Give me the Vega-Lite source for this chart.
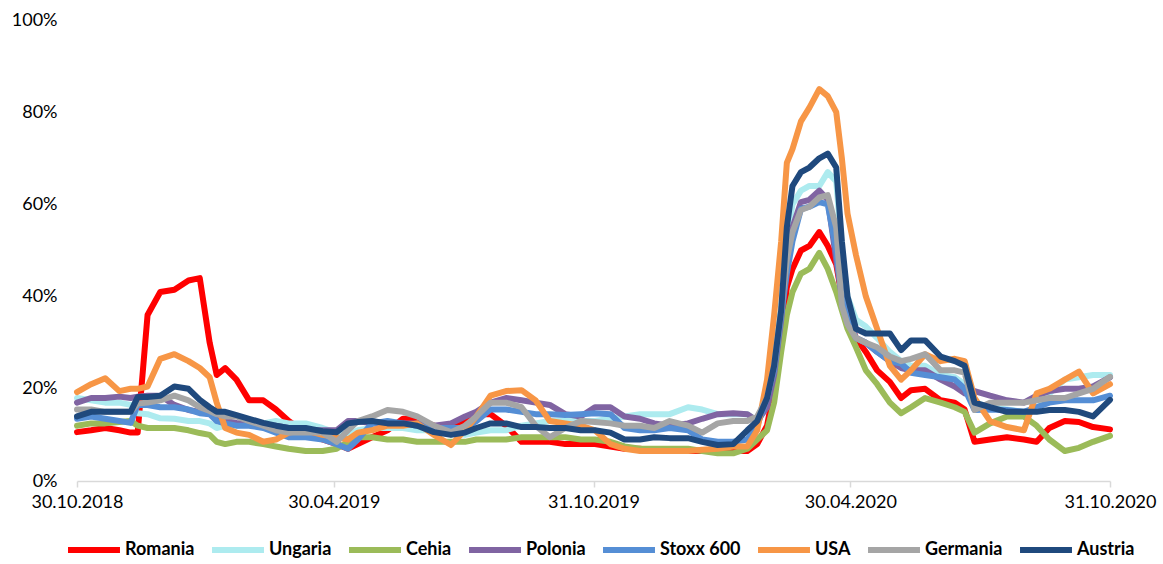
{
 "$schema": "https://vega.github.io/schema/vega-lite/v6.json",
 "width": 1033, "height": 461,
 "autosize": {"type": "none"},
 "padding": {"left": 77, "top": 20, "right": 53, "bottom": 83},
 "background": "white",
 "config": {"view": {"stroke": null}, "font": "Lato"},
 "data": {"format": {"parse": {"d": "date:'%Y-%m-%d'"}}, "values": [
{"d":"2018-10-30","s":"Romania","v":10.6},{"d":"2018-11-09","s":"Romania","v":11},{"d":"2018-11-19","s":"Romania","v":11.5},{"d":"2018-11-29","s":"Romania","v":11},{"d":"2018-12-07","s":"Romania","v":10.5},{"d":"2018-12-12","s":"Romania","v":10.5},{"d":"2018-12-19","s":"Romania","v":36},{"d":"2018-12-28","s":"Romania","v":41},{"d":"2019-01-07","s":"Romania","v":41.5},{"d":"2019-01-17","s":"Romania","v":43.5},{"d":"2019-01-25","s":"Romania","v":44},{"d":"2019-02-01","s":"Romania","v":30},{"d":"2019-02-06","s":"Romania","v":23},{"d":"2019-02-12","s":"Romania","v":24.5},{"d":"2019-02-20","s":"Romania","v":22},{"d":"2019-03-01","s":"Romania","v":17.5},{"d":"2019-03-11","s":"Romania","v":17.5},{"d":"2019-03-20","s":"Romania","v":15.5},{"d":"2019-03-29","s":"Romania","v":13},{"d":"2019-04-10","s":"Romania","v":10.5},{"d":"2019-04-22","s":"Romania","v":9},{"d":"2019-05-02","s":"Romania","v":8},{"d":"2019-05-10","s":"Romania","v":7},{"d":"2019-05-17","s":"Romania","v":8},{"d":"2019-05-27","s":"Romania","v":9.5},{"d":"2019-06-07","s":"Romania","v":11},{"d":"2019-06-18","s":"Romania","v":13.5},{"d":"2019-06-28","s":"Romania","v":13.5},{"d":"2019-07-10","s":"Romania","v":12},{"d":"2019-07-22","s":"Romania","v":11},{"d":"2019-08-01","s":"Romania","v":13.5},{"d":"2019-08-09","s":"Romania","v":14.5},{"d":"2019-08-19","s":"Romania","v":14.5},{"d":"2019-08-30","s":"Romania","v":12},{"d":"2019-09-10","s":"Romania","v":8.5},{"d":"2019-09-20","s":"Romania","v":8.5},{"d":"2019-09-30","s":"Romania","v":8.5},{"d":"2019-10-11","s":"Romania","v":8},{"d":"2019-10-22","s":"Romania","v":8},{"d":"2019-11-01","s":"Romania","v":8},{"d":"2019-11-12","s":"Romania","v":7.5},{"d":"2019-11-22","s":"Romania","v":7},{"d":"2019-12-03","s":"Romania","v":7},{"d":"2019-12-13","s":"Romania","v":6.5},{"d":"2019-12-24","s":"Romania","v":6.5},{"d":"2020-01-06","s":"Romania","v":6.5},{"d":"2020-01-16","s":"Romania","v":6.5},{"d":"2020-01-27","s":"Romania","v":6.5},{"d":"2020-02-07","s":"Romania","v":6.5},{"d":"2020-02-17","s":"Romania","v":6.5},{"d":"2020-02-24","s":"Romania","v":8},{"d":"2020-03-02","s":"Romania","v":12},{"d":"2020-03-07","s":"Romania","v":20},{"d":"2020-03-12","s":"Romania","v":30},{"d":"2020-03-16","s":"Romania","v":42},{"d":"2020-03-20","s":"Romania","v":46},{"d":"2020-03-26","s":"Romania","v":50},{"d":"2020-04-01","s":"Romania","v":51},{"d":"2020-04-08","s":"Romania","v":54},{"d":"2020-04-14","s":"Romania","v":51},{"d":"2020-04-20","s":"Romania","v":47},{"d":"2020-04-24","s":"Romania","v":40},{"d":"2020-04-28","s":"Romania","v":36},{"d":"2020-05-04","s":"Romania","v":31},{"d":"2020-05-11","s":"Romania","v":28},{"d":"2020-05-19","s":"Romania","v":24},{"d":"2020-05-28","s":"Romania","v":21.5},{"d":"2020-06-05","s":"Romania","v":18},{"d":"2020-06-12","s":"Romania","v":19.7},{"d":"2020-06-22","s":"Romania","v":20},{"d":"2020-07-03","s":"Romania","v":17.5},{"d":"2020-07-13","s":"Romania","v":17},{"d":"2020-07-20","s":"Romania","v":15.5},{"d":"2020-07-27","s":"Romania","v":8.5},{"d":"2020-08-07","s":"Romania","v":9},{"d":"2020-08-19","s":"Romania","v":9.5},{"d":"2020-08-31","s":"Romania","v":9},{"d":"2020-09-09","s":"Romania","v":8.5},{"d":"2020-09-18","s":"Romania","v":11.5},{"d":"2020-09-29","s":"Romania","v":13},{"d":"2020-10-09","s":"Romania","v":12.8},{"d":"2020-10-19","s":"Romania","v":11.7},{"d":"2020-10-31","s":"Romania","v":11.2},
{"d":"2018-10-30","s":"Ungaria","v":18},{"d":"2018-11-09","s":"Ungaria","v":17.5},{"d":"2018-11-19","s":"Ungaria","v":17},{"d":"2018-11-29","s":"Ungaria","v":17},{"d":"2018-12-07","s":"Ungaria","v":16.5},{"d":"2018-12-12","s":"Ungaria","v":14.7},{"d":"2018-12-19","s":"Ungaria","v":14.5},{"d":"2018-12-28","s":"Ungaria","v":13.6},{"d":"2019-01-07","s":"Ungaria","v":13.5},{"d":"2019-01-17","s":"Ungaria","v":13},{"d":"2019-01-25","s":"Ungaria","v":13},{"d":"2019-02-01","s":"Ungaria","v":12.5},{"d":"2019-02-06","s":"Ungaria","v":11.5},{"d":"2019-02-12","s":"Ungaria","v":12},{"d":"2019-02-20","s":"Ungaria","v":12},{"d":"2019-03-01","s":"Ungaria","v":12.5},{"d":"2019-03-11","s":"Ungaria","v":12.5},{"d":"2019-03-20","s":"Ungaria","v":13},{"d":"2019-03-29","s":"Ungaria","v":12.5},{"d":"2019-04-10","s":"Ungaria","v":12.5},{"d":"2019-04-22","s":"Ungaria","v":11.5},{"d":"2019-05-02","s":"Ungaria","v":10.5},{"d":"2019-05-10","s":"Ungaria","v":10},{"d":"2019-05-17","s":"Ungaria","v":11},{"d":"2019-05-27","s":"Ungaria","v":11.5},{"d":"2019-06-07","s":"Ungaria","v":11.5},{"d":"2019-06-18","s":"Ungaria","v":11.5},{"d":"2019-06-28","s":"Ungaria","v":11},{"d":"2019-07-10","s":"Ungaria","v":11},{"d":"2019-07-22","s":"Ungaria","v":10.5},{"d":"2019-08-01","s":"Ungaria","v":10},{"d":"2019-08-09","s":"Ungaria","v":10.5},{"d":"2019-08-19","s":"Ungaria","v":11},{"d":"2019-08-30","s":"Ungaria","v":11},{"d":"2019-09-10","s":"Ungaria","v":12},{"d":"2019-09-20","s":"Ungaria","v":12.5},{"d":"2019-09-30","s":"Ungaria","v":13},{"d":"2019-10-11","s":"Ungaria","v":13},{"d":"2019-10-22","s":"Ungaria","v":13},{"d":"2019-11-01","s":"Ungaria","v":13},{"d":"2019-11-12","s":"Ungaria","v":13.5},{"d":"2019-11-22","s":"Ungaria","v":14},{"d":"2019-12-03","s":"Ungaria","v":14.5},{"d":"2019-12-13","s":"Ungaria","v":14.5},{"d":"2019-12-24","s":"Ungaria","v":14.5},{"d":"2020-01-06","s":"Ungaria","v":16},{"d":"2020-01-16","s":"Ungaria","v":15.5},{"d":"2020-01-27","s":"Ungaria","v":14.5},{"d":"2020-02-07","s":"Ungaria","v":14.5},{"d":"2020-02-17","s":"Ungaria","v":14.5},{"d":"2020-02-24","s":"Ungaria","v":13},{"d":"2020-03-02","s":"Ungaria","v":18},{"d":"2020-03-07","s":"Ungaria","v":26},{"d":"2020-03-12","s":"Ungaria","v":38},{"d":"2020-03-16","s":"Ungaria","v":52},{"d":"2020-03-20","s":"Ungaria","v":60},{"d":"2020-03-26","s":"Ungaria","v":63},{"d":"2020-04-01","s":"Ungaria","v":64},{"d":"2020-04-08","s":"Ungaria","v":64},{"d":"2020-04-14","s":"Ungaria","v":67},{"d":"2020-04-20","s":"Ungaria","v":65},{"d":"2020-04-24","s":"Ungaria","v":50},{"d":"2020-04-28","s":"Ungaria","v":40},{"d":"2020-05-04","s":"Ungaria","v":35},{"d":"2020-05-11","s":"Ungaria","v":33.5},{"d":"2020-05-19","s":"Ungaria","v":31},{"d":"2020-05-28","s":"Ungaria","v":28},{"d":"2020-06-05","s":"Ungaria","v":26},{"d":"2020-06-12","s":"Ungaria","v":25},{"d":"2020-06-22","s":"Ungaria","v":25},{"d":"2020-07-03","s":"Ungaria","v":23},{"d":"2020-07-13","s":"Ungaria","v":22.5},{"d":"2020-07-20","s":"Ungaria","v":21},{"d":"2020-07-27","s":"Ungaria","v":17},{"d":"2020-08-07","s":"Ungaria","v":16},{"d":"2020-08-19","s":"Ungaria","v":15.5},{"d":"2020-08-31","s":"Ungaria","v":15},{"d":"2020-09-09","s":"Ungaria","v":15.5},{"d":"2020-09-18","s":"Ungaria","v":19},{"d":"2020-09-29","s":"Ungaria","v":22},{"d":"2020-10-09","s":"Ungaria","v":22.5},{"d":"2020-10-19","s":"Ungaria","v":23},{"d":"2020-10-31","s":"Ungaria","v":23},
{"d":"2018-10-30","s":"Cehia","v":12},{"d":"2018-11-09","s":"Cehia","v":12.5},{"d":"2018-11-19","s":"Cehia","v":12.5},{"d":"2018-11-29","s":"Cehia","v":12.8},{"d":"2018-12-07","s":"Cehia","v":13},{"d":"2018-12-12","s":"Cehia","v":12},{"d":"2018-12-19","s":"Cehia","v":11.5},{"d":"2018-12-28","s":"Cehia","v":11.5},{"d":"2019-01-07","s":"Cehia","v":11.5},{"d":"2019-01-17","s":"Cehia","v":11},{"d":"2019-01-25","s":"Cehia","v":10.4},{"d":"2019-02-01","s":"Cehia","v":10},{"d":"2019-02-06","s":"Cehia","v":8.5},{"d":"2019-02-12","s":"Cehia","v":8},{"d":"2019-02-20","s":"Cehia","v":8.5},{"d":"2019-03-01","s":"Cehia","v":8.5},{"d":"2019-03-11","s":"Cehia","v":8},{"d":"2019-03-20","s":"Cehia","v":7.5},{"d":"2019-03-29","s":"Cehia","v":7},{"d":"2019-04-10","s":"Cehia","v":6.5},{"d":"2019-04-22","s":"Cehia","v":6.5},{"d":"2019-05-02","s":"Cehia","v":7},{"d":"2019-05-10","s":"Cehia","v":8.5},{"d":"2019-05-17","s":"Cehia","v":9.5},{"d":"2019-05-27","s":"Cehia","v":9.5},{"d":"2019-06-07","s":"Cehia","v":9},{"d":"2019-06-18","s":"Cehia","v":9},{"d":"2019-06-28","s":"Cehia","v":8.5},{"d":"2019-07-10","s":"Cehia","v":8.5},{"d":"2019-07-22","s":"Cehia","v":8.5},{"d":"2019-08-01","s":"Cehia","v":8.5},{"d":"2019-08-09","s":"Cehia","v":9},{"d":"2019-08-19","s":"Cehia","v":9},{"d":"2019-08-30","s":"Cehia","v":9},{"d":"2019-09-10","s":"Cehia","v":9.5},{"d":"2019-09-20","s":"Cehia","v":9.5},{"d":"2019-09-30","s":"Cehia","v":9.5},{"d":"2019-10-11","s":"Cehia","v":9.5},{"d":"2019-10-22","s":"Cehia","v":9},{"d":"2019-11-01","s":"Cehia","v":9},{"d":"2019-11-12","s":"Cehia","v":8.5},{"d":"2019-11-22","s":"Cehia","v":7.5},{"d":"2019-12-03","s":"Cehia","v":7},{"d":"2019-12-13","s":"Cehia","v":7},{"d":"2019-12-24","s":"Cehia","v":7},{"d":"2020-01-06","s":"Cehia","v":7},{"d":"2020-01-16","s":"Cehia","v":6.5},{"d":"2020-01-27","s":"Cehia","v":6},{"d":"2020-02-07","s":"Cehia","v":6},{"d":"2020-02-17","s":"Cehia","v":7},{"d":"2020-02-24","s":"Cehia","v":9},{"d":"2020-03-02","s":"Cehia","v":11},{"d":"2020-03-07","s":"Cehia","v":17},{"d":"2020-03-12","s":"Cehia","v":28},{"d":"2020-03-16","s":"Cehia","v":36},{"d":"2020-03-20","s":"Cehia","v":41},{"d":"2020-03-26","s":"Cehia","v":45},{"d":"2020-04-01","s":"Cehia","v":46},{"d":"2020-04-08","s":"Cehia","v":49.5},{"d":"2020-04-14","s":"Cehia","v":46},{"d":"2020-04-20","s":"Cehia","v":41},{"d":"2020-04-24","s":"Cehia","v":37},{"d":"2020-04-28","s":"Cehia","v":33},{"d":"2020-05-04","s":"Cehia","v":29},{"d":"2020-05-11","s":"Cehia","v":24},{"d":"2020-05-19","s":"Cehia","v":21},{"d":"2020-05-28","s":"Cehia","v":17},{"d":"2020-06-05","s":"Cehia","v":14.7},{"d":"2020-06-12","s":"Cehia","v":16},{"d":"2020-06-22","s":"Cehia","v":18},{"d":"2020-07-03","s":"Cehia","v":17},{"d":"2020-07-13","s":"Cehia","v":16},{"d":"2020-07-20","s":"Cehia","v":15},{"d":"2020-07-27","s":"Cehia","v":10.5},{"d":"2020-08-07","s":"Cehia","v":12.5},{"d":"2020-08-19","s":"Cehia","v":14},{"d":"2020-08-31","s":"Cehia","v":14},{"d":"2020-09-09","s":"Cehia","v":12},{"d":"2020-09-18","s":"Cehia","v":9},{"d":"2020-09-29","s":"Cehia","v":6.5},{"d":"2020-10-09","s":"Cehia","v":7.2},{"d":"2020-10-19","s":"Cehia","v":8.5},{"d":"2020-10-31","s":"Cehia","v":9.8},
{"d":"2018-10-30","s":"Polonia","v":17},{"d":"2018-11-09","s":"Polonia","v":18},{"d":"2018-11-19","s":"Polonia","v":18},{"d":"2018-11-29","s":"Polonia","v":18.3},{"d":"2018-12-07","s":"Polonia","v":18},{"d":"2018-12-12","s":"Polonia","v":18.3},{"d":"2018-12-19","s":"Polonia","v":18.5},{"d":"2018-12-28","s":"Polonia","v":18.5},{"d":"2019-01-07","s":"Polonia","v":16.5},{"d":"2019-01-17","s":"Polonia","v":15.4},{"d":"2019-01-25","s":"Polonia","v":15},{"d":"2019-02-01","s":"Polonia","v":14.5},{"d":"2019-02-06","s":"Polonia","v":14},{"d":"2019-02-12","s":"Polonia","v":13},{"d":"2019-02-20","s":"Polonia","v":12.6},{"d":"2019-03-01","s":"Polonia","v":12.3},{"d":"2019-03-11","s":"Polonia","v":12},{"d":"2019-03-20","s":"Polonia","v":12},{"d":"2019-03-29","s":"Polonia","v":11.5},{"d":"2019-04-10","s":"Polonia","v":11},{"d":"2019-04-22","s":"Polonia","v":11},{"d":"2019-05-02","s":"Polonia","v":11},{"d":"2019-05-10","s":"Polonia","v":13},{"d":"2019-05-17","s":"Polonia","v":13},{"d":"2019-05-27","s":"Polonia","v":12.5},{"d":"2019-06-07","s":"Polonia","v":12.5},{"d":"2019-06-18","s":"Polonia","v":12.5},{"d":"2019-06-28","s":"Polonia","v":12.5},{"d":"2019-07-10","s":"Polonia","v":12},{"d":"2019-07-22","s":"Polonia","v":12.5},{"d":"2019-08-01","s":"Polonia","v":14},{"d":"2019-08-09","s":"Polonia","v":15},{"d":"2019-08-19","s":"Polonia","v":17},{"d":"2019-08-30","s":"Polonia","v":18},{"d":"2019-09-10","s":"Polonia","v":17.5},{"d":"2019-09-20","s":"Polonia","v":17},{"d":"2019-09-30","s":"Polonia","v":16.5},{"d":"2019-10-11","s":"Polonia","v":14.5},{"d":"2019-10-22","s":"Polonia","v":14},{"d":"2019-11-01","s":"Polonia","v":16},{"d":"2019-11-12","s":"Polonia","v":16},{"d":"2019-11-22","s":"Polonia","v":14},{"d":"2019-12-03","s":"Polonia","v":13.5},{"d":"2019-12-13","s":"Polonia","v":12.5},{"d":"2019-12-24","s":"Polonia","v":12},{"d":"2020-01-06","s":"Polonia","v":12.5},{"d":"2020-01-16","s":"Polonia","v":13.5},{"d":"2020-01-27","s":"Polonia","v":14.5},{"d":"2020-02-07","s":"Polonia","v":14.7},{"d":"2020-02-17","s":"Polonia","v":14.5},{"d":"2020-02-24","s":"Polonia","v":13},{"d":"2020-03-02","s":"Polonia","v":16},{"d":"2020-03-07","s":"Polonia","v":23},{"d":"2020-03-12","s":"Polonia","v":35},{"d":"2020-03-16","s":"Polonia","v":48},{"d":"2020-03-20","s":"Polonia","v":55},{"d":"2020-03-26","s":"Polonia","v":60.5},{"d":"2020-04-01","s":"Polonia","v":61},{"d":"2020-04-08","s":"Polonia","v":63},{"d":"2020-04-14","s":"Polonia","v":61},{"d":"2020-04-20","s":"Polonia","v":48},{"d":"2020-04-24","s":"Polonia","v":40},{"d":"2020-04-28","s":"Polonia","v":35},{"d":"2020-05-04","s":"Polonia","v":31},{"d":"2020-05-11","s":"Polonia","v":30},{"d":"2020-05-19","s":"Polonia","v":28},{"d":"2020-05-28","s":"Polonia","v":26},{"d":"2020-06-05","s":"Polonia","v":24.5},{"d":"2020-06-12","s":"Polonia","v":24},{"d":"2020-06-22","s":"Polonia","v":24},{"d":"2020-07-03","s":"Polonia","v":22},{"d":"2020-07-13","s":"Polonia","v":20.5},{"d":"2020-07-20","s":"Polonia","v":19},{"d":"2020-07-27","s":"Polonia","v":19.5},{"d":"2020-08-07","s":"Polonia","v":18.5},{"d":"2020-08-19","s":"Polonia","v":17.5},{"d":"2020-08-31","s":"Polonia","v":17},{"d":"2020-09-09","s":"Polonia","v":18.5},{"d":"2020-09-18","s":"Polonia","v":19.5},{"d":"2020-09-29","s":"Polonia","v":20},{"d":"2020-10-09","s":"Polonia","v":20},{"d":"2020-10-19","s":"Polonia","v":20.5},{"d":"2020-10-31","s":"Polonia","v":22.5},
{"d":"2018-10-30","s":"Stoxx 600","v":13.5},{"d":"2018-11-09","s":"Stoxx 600","v":14},{"d":"2018-11-19","s":"Stoxx 600","v":13.5},{"d":"2018-11-29","s":"Stoxx 600","v":13},{"d":"2018-12-07","s":"Stoxx 600","v":12.6},{"d":"2018-12-12","s":"Stoxx 600","v":16.5},{"d":"2018-12-19","s":"Stoxx 600","v":16.5},{"d":"2018-12-28","s":"Stoxx 600","v":16},{"d":"2019-01-07","s":"Stoxx 600","v":16},{"d":"2019-01-17","s":"Stoxx 600","v":15.5},{"d":"2019-01-25","s":"Stoxx 600","v":14.7},{"d":"2019-02-01","s":"Stoxx 600","v":14.5},{"d":"2019-02-06","s":"Stoxx 600","v":13},{"d":"2019-02-12","s":"Stoxx 600","v":12.5},{"d":"2019-02-20","s":"Stoxx 600","v":12},{"d":"2019-03-01","s":"Stoxx 600","v":12},{"d":"2019-03-11","s":"Stoxx 600","v":11.5},{"d":"2019-03-20","s":"Stoxx 600","v":10.5},{"d":"2019-03-29","s":"Stoxx 600","v":9.5},{"d":"2019-04-10","s":"Stoxx 600","v":9.5},{"d":"2019-04-22","s":"Stoxx 600","v":9},{"d":"2019-05-02","s":"Stoxx 600","v":8},{"d":"2019-05-10","s":"Stoxx 600","v":7},{"d":"2019-05-17","s":"Stoxx 600","v":9},{"d":"2019-05-27","s":"Stoxx 600","v":12.5},{"d":"2019-06-07","s":"Stoxx 600","v":13},{"d":"2019-06-18","s":"Stoxx 600","v":12.5},{"d":"2019-06-28","s":"Stoxx 600","v":12},{"d":"2019-07-10","s":"Stoxx 600","v":11.5},{"d":"2019-07-22","s":"Stoxx 600","v":11.5},{"d":"2019-08-01","s":"Stoxx 600","v":11.5},{"d":"2019-08-09","s":"Stoxx 600","v":13},{"d":"2019-08-19","s":"Stoxx 600","v":15.5},{"d":"2019-08-30","s":"Stoxx 600","v":15.5},{"d":"2019-09-10","s":"Stoxx 600","v":15},{"d":"2019-09-20","s":"Stoxx 600","v":14.5},{"d":"2019-09-30","s":"Stoxx 600","v":14.5},{"d":"2019-10-11","s":"Stoxx 600","v":14.3},{"d":"2019-10-22","s":"Stoxx 600","v":14.5},{"d":"2019-11-01","s":"Stoxx 600","v":14.7},{"d":"2019-11-12","s":"Stoxx 600","v":14.5},{"d":"2019-11-22","s":"Stoxx 600","v":11.5},{"d":"2019-12-03","s":"Stoxx 600","v":11},{"d":"2019-12-13","s":"Stoxx 600","v":11},{"d":"2019-12-24","s":"Stoxx 600","v":11.5},{"d":"2020-01-06","s":"Stoxx 600","v":11},{"d":"2020-01-16","s":"Stoxx 600","v":9},{"d":"2020-01-27","s":"Stoxx 600","v":8.5},{"d":"2020-02-07","s":"Stoxx 600","v":8.5},{"d":"2020-02-17","s":"Stoxx 600","v":9},{"d":"2020-02-24","s":"Stoxx 600","v":12},{"d":"2020-03-02","s":"Stoxx 600","v":18},{"d":"2020-03-07","s":"Stoxx 600","v":24},{"d":"2020-03-12","s":"Stoxx 600","v":36},{"d":"2020-03-16","s":"Stoxx 600","v":45},{"d":"2020-03-20","s":"Stoxx 600","v":52},{"d":"2020-03-26","s":"Stoxx 600","v":59},{"d":"2020-04-01","s":"Stoxx 600","v":59.5},{"d":"2020-04-08","s":"Stoxx 600","v":60.5},{"d":"2020-04-14","s":"Stoxx 600","v":60},{"d":"2020-04-20","s":"Stoxx 600","v":50},{"d":"2020-04-24","s":"Stoxx 600","v":40},{"d":"2020-04-28","s":"Stoxx 600","v":35},{"d":"2020-05-04","s":"Stoxx 600","v":31},{"d":"2020-05-11","s":"Stoxx 600","v":30},{"d":"2020-05-19","s":"Stoxx 600","v":28},{"d":"2020-05-28","s":"Stoxx 600","v":26},{"d":"2020-06-05","s":"Stoxx 600","v":25.5},{"d":"2020-06-12","s":"Stoxx 600","v":23.5},{"d":"2020-06-22","s":"Stoxx 600","v":23},{"d":"2020-07-03","s":"Stoxx 600","v":22.5},{"d":"2020-07-13","s":"Stoxx 600","v":22},{"d":"2020-07-20","s":"Stoxx 600","v":20},{"d":"2020-07-27","s":"Stoxx 600","v":15.4},{"d":"2020-08-07","s":"Stoxx 600","v":15.5},{"d":"2020-08-19","s":"Stoxx 600","v":15.4},{"d":"2020-08-31","s":"Stoxx 600","v":15},{"d":"2020-09-09","s":"Stoxx 600","v":16},{"d":"2020-09-18","s":"Stoxx 600","v":17},{"d":"2020-09-29","s":"Stoxx 600","v":17.5},{"d":"2020-10-09","s":"Stoxx 600","v":17.5},{"d":"2020-10-19","s":"Stoxx 600","v":17.5},{"d":"2020-10-31","s":"Stoxx 600","v":18.5},
{"d":"2018-10-30","s":"USA","v":19.3},{"d":"2018-11-09","s":"USA","v":21},{"d":"2018-11-19","s":"USA","v":22.3},{"d":"2018-11-29","s":"USA","v":19.5},{"d":"2018-12-07","s":"USA","v":20},{"d":"2018-12-12","s":"USA","v":20},{"d":"2018-12-19","s":"USA","v":20.5},{"d":"2018-12-28","s":"USA","v":26.5},{"d":"2019-01-07","s":"USA","v":27.5},{"d":"2019-01-17","s":"USA","v":26},{"d":"2019-01-25","s":"USA","v":24.5},{"d":"2019-02-01","s":"USA","v":22.5},{"d":"2019-02-06","s":"USA","v":17},{"d":"2019-02-12","s":"USA","v":11.5},{"d":"2019-02-20","s":"USA","v":10.5},{"d":"2019-03-01","s":"USA","v":10},{"d":"2019-03-11","s":"USA","v":8.5},{"d":"2019-03-20","s":"USA","v":9},{"d":"2019-03-29","s":"USA","v":10.5},{"d":"2019-04-10","s":"USA","v":11},{"d":"2019-04-22","s":"USA","v":10},{"d":"2019-05-02","s":"USA","v":9.5},{"d":"2019-05-10","s":"USA","v":9},{"d":"2019-05-17","s":"USA","v":10.5},{"d":"2019-05-27","s":"USA","v":11},{"d":"2019-06-07","s":"USA","v":12},{"d":"2019-06-18","s":"USA","v":12},{"d":"2019-06-28","s":"USA","v":12.5},{"d":"2019-07-10","s":"USA","v":10},{"d":"2019-07-22","s":"USA","v":7.8},{"d":"2019-08-01","s":"USA","v":11},{"d":"2019-08-09","s":"USA","v":14},{"d":"2019-08-19","s":"USA","v":18.5},{"d":"2019-08-30","s":"USA","v":19.5},{"d":"2019-09-10","s":"USA","v":19.7},{"d":"2019-09-20","s":"USA","v":17.5},{"d":"2019-09-30","s":"USA","v":13},{"d":"2019-10-11","s":"USA","v":12.5},{"d":"2019-10-22","s":"USA","v":12},{"d":"2019-11-01","s":"USA","v":11},{"d":"2019-11-12","s":"USA","v":8},{"d":"2019-11-22","s":"USA","v":7},{"d":"2019-12-03","s":"USA","v":6.5},{"d":"2019-12-13","s":"USA","v":6.5},{"d":"2019-12-24","s":"USA","v":6.5},{"d":"2020-01-06","s":"USA","v":6.5},{"d":"2020-01-16","s":"USA","v":6.8},{"d":"2020-01-27","s":"USA","v":7},{"d":"2020-02-07","s":"USA","v":7.5},{"d":"2020-02-17","s":"USA","v":7.5},{"d":"2020-02-24","s":"USA","v":11},{"d":"2020-03-02","s":"USA","v":22},{"d":"2020-03-07","s":"USA","v":36},{"d":"2020-03-12","s":"USA","v":52},{"d":"2020-03-16","s":"USA","v":69},{"d":"2020-03-20","s":"USA","v":72},{"d":"2020-03-26","s":"USA","v":78},{"d":"2020-04-01","s":"USA","v":81},{"d":"2020-04-08","s":"USA","v":85},{"d":"2020-04-14","s":"USA","v":83.5},{"d":"2020-04-20","s":"USA","v":80},{"d":"2020-04-24","s":"USA","v":70},{"d":"2020-04-28","s":"USA","v":58},{"d":"2020-05-04","s":"USA","v":49},{"d":"2020-05-11","s":"USA","v":40},{"d":"2020-05-19","s":"USA","v":33},{"d":"2020-05-28","s":"USA","v":25},{"d":"2020-06-05","s":"USA","v":22},{"d":"2020-06-12","s":"USA","v":24},{"d":"2020-06-22","s":"USA","v":27.5},{"d":"2020-07-03","s":"USA","v":26},{"d":"2020-07-13","s":"USA","v":26.5},{"d":"2020-07-20","s":"USA","v":26},{"d":"2020-07-27","s":"USA","v":18},{"d":"2020-08-07","s":"USA","v":13},{"d":"2020-08-19","s":"USA","v":11.7},{"d":"2020-08-31","s":"USA","v":11},{"d":"2020-09-09","s":"USA","v":19},{"d":"2020-09-18","s":"USA","v":20},{"d":"2020-09-29","s":"USA","v":22},{"d":"2020-10-09","s":"USA","v":23.7},{"d":"2020-10-19","s":"USA","v":19},{"d":"2020-10-31","s":"USA","v":21},
{"d":"2018-10-30","s":"Germania","v":15.5},{"d":"2018-11-09","s":"Germania","v":15.5},{"d":"2018-11-19","s":"Germania","v":15},{"d":"2018-11-29","s":"Germania","v":15},{"d":"2018-12-07","s":"Germania","v":15},{"d":"2018-12-12","s":"Germania","v":16.8},{"d":"2018-12-19","s":"Germania","v":17},{"d":"2018-12-28","s":"Germania","v":17.5},{"d":"2019-01-07","s":"Germania","v":18.5},{"d":"2019-01-17","s":"Germania","v":17.5},{"d":"2019-01-25","s":"Germania","v":16},{"d":"2019-02-01","s":"Germania","v":15.2},{"d":"2019-02-06","s":"Germania","v":14.5},{"d":"2019-02-12","s":"Germania","v":14},{"d":"2019-02-20","s":"Germania","v":14},{"d":"2019-03-01","s":"Germania","v":13},{"d":"2019-03-11","s":"Germania","v":12},{"d":"2019-03-20","s":"Germania","v":11},{"d":"2019-03-29","s":"Germania","v":10.5},{"d":"2019-04-10","s":"Germania","v":10.5},{"d":"2019-04-22","s":"Germania","v":10.5},{"d":"2019-05-02","s":"Germania","v":8.5},{"d":"2019-05-10","s":"Germania","v":11},{"d":"2019-05-17","s":"Germania","v":13},{"d":"2019-05-27","s":"Germania","v":14},{"d":"2019-06-07","s":"Germania","v":15.4},{"d":"2019-06-18","s":"Germania","v":15},{"d":"2019-06-28","s":"Germania","v":14},{"d":"2019-07-10","s":"Germania","v":12},{"d":"2019-07-22","s":"Germania","v":10.6},{"d":"2019-08-01","s":"Germania","v":12},{"d":"2019-08-09","s":"Germania","v":14},{"d":"2019-08-19","s":"Germania","v":17},{"d":"2019-08-30","s":"Germania","v":17},{"d":"2019-09-10","s":"Germania","v":16},{"d":"2019-09-20","s":"Germania","v":12},{"d":"2019-09-30","s":"Germania","v":9.5},{"d":"2019-10-11","s":"Germania","v":11.5},{"d":"2019-10-22","s":"Germania","v":13},{"d":"2019-11-01","s":"Germania","v":12.8},{"d":"2019-11-12","s":"Germania","v":12.5},{"d":"2019-11-22","s":"Germania","v":12},{"d":"2019-12-03","s":"Germania","v":12},{"d":"2019-12-13","s":"Germania","v":11.5},{"d":"2019-12-24","s":"Germania","v":13},{"d":"2020-01-06","s":"Germania","v":12},{"d":"2020-01-16","s":"Germania","v":10.5},{"d":"2020-01-27","s":"Germania","v":12.5},{"d":"2020-02-07","s":"Germania","v":13},{"d":"2020-02-17","s":"Germania","v":13},{"d":"2020-02-24","s":"Germania","v":14},{"d":"2020-03-02","s":"Germania","v":18},{"d":"2020-03-07","s":"Germania","v":25},{"d":"2020-03-12","s":"Germania","v":37},{"d":"2020-03-16","s":"Germania","v":48},{"d":"2020-03-20","s":"Germania","v":54},{"d":"2020-03-26","s":"Germania","v":58.8},{"d":"2020-04-01","s":"Germania","v":59.5},{"d":"2020-04-08","s":"Germania","v":61.5},{"d":"2020-04-14","s":"Germania","v":62},{"d":"2020-04-20","s":"Germania","v":55},{"d":"2020-04-24","s":"Germania","v":38},{"d":"2020-04-28","s":"Germania","v":34},{"d":"2020-05-04","s":"Germania","v":31},{"d":"2020-05-11","s":"Germania","v":30},{"d":"2020-05-19","s":"Germania","v":29},{"d":"2020-05-28","s":"Germania","v":27},{"d":"2020-06-05","s":"Germania","v":26},{"d":"2020-06-12","s":"Germania","v":26.5},{"d":"2020-06-22","s":"Germania","v":27.5},{"d":"2020-07-03","s":"Germania","v":24},{"d":"2020-07-13","s":"Germania","v":24},{"d":"2020-07-20","s":"Germania","v":23.5},{"d":"2020-07-27","s":"Germania","v":15.4},{"d":"2020-08-07","s":"Germania","v":17},{"d":"2020-08-19","s":"Germania","v":17},{"d":"2020-08-31","s":"Germania","v":17},{"d":"2020-09-09","s":"Germania","v":17.5},{"d":"2020-09-18","s":"Germania","v":18},{"d":"2020-09-29","s":"Germania","v":18},{"d":"2020-10-09","s":"Germania","v":19},{"d":"2020-10-19","s":"Germania","v":20},{"d":"2020-10-31","s":"Germania","v":22.6},
{"d":"2018-10-30","s":"Austria","v":14},{"d":"2018-11-09","s":"Austria","v":15},{"d":"2018-11-19","s":"Austria","v":15},{"d":"2018-11-29","s":"Austria","v":15},{"d":"2018-12-07","s":"Austria","v":15},{"d":"2018-12-12","s":"Austria","v":18.2},{"d":"2018-12-19","s":"Austria","v":18.2},{"d":"2018-12-28","s":"Austria","v":18.5},{"d":"2019-01-07","s":"Austria","v":20.5},{"d":"2019-01-17","s":"Austria","v":20},{"d":"2019-01-25","s":"Austria","v":17.6},{"d":"2019-02-01","s":"Austria","v":16},{"d":"2019-02-06","s":"Austria","v":15},{"d":"2019-02-12","s":"Austria","v":15},{"d":"2019-02-20","s":"Austria","v":14.3},{"d":"2019-03-01","s":"Austria","v":13.5},{"d":"2019-03-11","s":"Austria","v":12.6},{"d":"2019-03-20","s":"Austria","v":12},{"d":"2019-03-29","s":"Austria","v":11.5},{"d":"2019-04-10","s":"Austria","v":11.5},{"d":"2019-04-22","s":"Austria","v":10.8},{"d":"2019-05-02","s":"Austria","v":10.6},{"d":"2019-05-10","s":"Austria","v":12.5},{"d":"2019-05-17","s":"Austria","v":12.8},{"d":"2019-05-27","s":"Austria","v":13},{"d":"2019-06-07","s":"Austria","v":12.5},{"d":"2019-06-18","s":"Austria","v":12.5},{"d":"2019-06-28","s":"Austria","v":12},{"d":"2019-07-10","s":"Austria","v":10.6},{"d":"2019-07-22","s":"Austria","v":10},{"d":"2019-08-01","s":"Austria","v":10.5},{"d":"2019-08-09","s":"Austria","v":11.5},{"d":"2019-08-19","s":"Austria","v":12.5},{"d":"2019-08-30","s":"Austria","v":12.5},{"d":"2019-09-10","s":"Austria","v":11.7},{"d":"2019-09-20","s":"Austria","v":11.7},{"d":"2019-09-30","s":"Austria","v":11.5},{"d":"2019-10-11","s":"Austria","v":11.5},{"d":"2019-10-22","s":"Austria","v":11},{"d":"2019-11-01","s":"Austria","v":11},{"d":"2019-11-12","s":"Austria","v":10.5},{"d":"2019-11-22","s":"Austria","v":9},{"d":"2019-12-03","s":"Austria","v":9},{"d":"2019-12-13","s":"Austria","v":9.5},{"d":"2019-12-24","s":"Austria","v":9.3},{"d":"2020-01-06","s":"Austria","v":9.3},{"d":"2020-01-16","s":"Austria","v":8.5},{"d":"2020-01-27","s":"Austria","v":7.8},{"d":"2020-02-07","s":"Austria","v":8},{"d":"2020-02-17","s":"Austria","v":11},{"d":"2020-02-24","s":"Austria","v":13},{"d":"2020-03-02","s":"Austria","v":18},{"d":"2020-03-07","s":"Austria","v":25},{"d":"2020-03-12","s":"Austria","v":37},{"d":"2020-03-16","s":"Austria","v":55},{"d":"2020-03-20","s":"Austria","v":64},{"d":"2020-03-26","s":"Austria","v":67},{"d":"2020-04-01","s":"Austria","v":68},{"d":"2020-04-08","s":"Austria","v":70},{"d":"2020-04-14","s":"Austria","v":71},{"d":"2020-04-20","s":"Austria","v":68},{"d":"2020-04-24","s":"Austria","v":52},{"d":"2020-04-28","s":"Austria","v":40},{"d":"2020-05-04","s":"Austria","v":33},{"d":"2020-05-11","s":"Austria","v":32},{"d":"2020-05-19","s":"Austria","v":32},{"d":"2020-05-28","s":"Austria","v":32},{"d":"2020-06-05","s":"Austria","v":28.4},{"d":"2020-06-12","s":"Austria","v":30.5},{"d":"2020-06-22","s":"Austria","v":30.5},{"d":"2020-07-03","s":"Austria","v":27},{"d":"2020-07-13","s":"Austria","v":26},{"d":"2020-07-20","s":"Austria","v":25},{"d":"2020-07-27","s":"Austria","v":17},{"d":"2020-08-07","s":"Austria","v":16},{"d":"2020-08-19","s":"Austria","v":15},{"d":"2020-08-31","s":"Austria","v":15},{"d":"2020-09-09","s":"Austria","v":15},{"d":"2020-09-18","s":"Austria","v":15.4},{"d":"2020-09-29","s":"Austria","v":15.4},{"d":"2020-10-09","s":"Austria","v":15},{"d":"2020-10-19","s":"Austria","v":14},{"d":"2020-10-31","s":"Austria","v":17.6}
 ]},
 "mark": {"type": "line", "strokeWidth": 6, "strokeCap": "round", "strokeJoin": "round"},
 "encoding": {
  "x": {"field": "d", "type": "temporal",
   "scale": {"domain": [{"year": 2018, "month": 10, "date": 30}, {"year": 2020, "month": 10, "date": 31}], "nice": false},
   "axis": {"title": null, "grid": false,
    "values": [{"year": 2018, "month": 10, "date": 30}, {"year": 2019, "month": 4, "date": 30}, {"year": 2019, "month": 10, "date": 31}, {"year": 2020, "month": 4, "date": 30}, {"year": 2020, "month": 10, "date": 31}],
    "labelExpr": "timeFormat(datum.value, '%d.%m.%Y')",
    "domainColor": "#D9D9D9", "domainWidth": 1.5, "tickColor": "#D9D9D9", "tickWidth": 1.5, "tickSize": 6,
    "labelFontSize": 18, "labelPadding": 6, "labelFlush": false, "labelOverlap": false, "labelColor": "#000000"}},
  "y": {"field": "v", "type": "quantitative",
   "scale": {"domain": [0, 100], "nice": false},
   "axis": {"title": null, "grid": false, "domain": false, "ticks": false,
    "values": [0, 20, 40, 60, 80, 100], "labelExpr": "datum.value + '%'",
    "labelFontSize": 18, "labelPadding": 20, "labelColor": "#000000"}},
  "color": {"field": "s", "type": "nominal",
   "scale": {"domain": ["Romania", "Ungaria", "Cehia", "Polonia", "Stoxx 600", "USA", "Germania", "Austria"],
    "range": ["#FF0000", "#ADEBEF", "#9BBB59", "#8064A2", "#558ED5", "#F79646", "#A5A5A5", "#1F497D"]},
   "legend": {"orient": "none", "legendX": -12, "legendY": 501, "direction": "horizontal", "title": null,
    "symbolType": "stroke", "symbolSize": 2700, "symbolStrokeWidth": 6,
    "labelFontSize": 18, "labelFontWeight": "bold", "labelColor": "#000000",
    "columnPadding": 5, "labelOffset": 2}}
 }
}
